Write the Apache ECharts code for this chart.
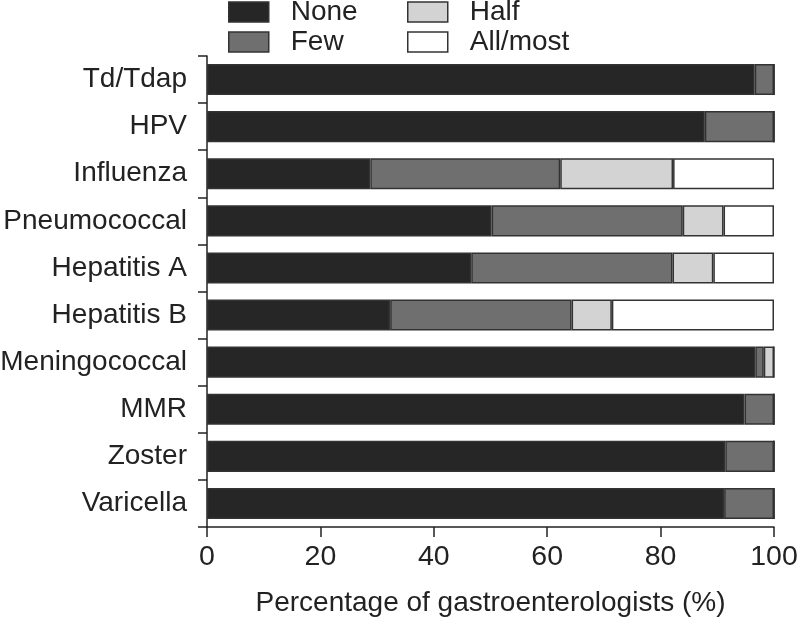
<!DOCTYPE html>
<html>
<head>
<meta charset="utf-8">
<script src="https://cdn.jsdelivr.net/npm/echarts@6/dist/echarts.min.js"></script>
<style>
html,body{margin:0;padding:0;background:#fff;}
#chart{width:798px;height:619px;}
</style>
</head>
<body>
<div id="chart"></div>
<script>
var categories = ['Td/Tdap','HPV','Influenza','Pneumococcal','Hepatitis A','Hepatitis B','Meningococcal','MMR','Zoster','Varicella'];
var noneVals = [96.6, 87.8, 28.8, 50.2, 46.6, 32.3, 96.7, 94.8, 91.4, 91.2];
var fewVals  = [3.4, 12.2, 33.5, 33.7, 35.5, 32.0, 1.5, 5.2, 8.6, 8.8];
var halfVals = [0, 0, 19.9, 7.2, 7.2, 7.1, 1.8, 0, 0, 0];
var allVals  = [0, 0, 17.8, 8.9, 10.7, 28.6, 0, 0, 0, 0];
var xTicks = [0, 20, 40, 60, 80, 100];

var FONT = 'Liberation Sans, Arial, sans-serif';
var TXT = '#222';
var FS = 28;
function mk(name, data, color){
  return {
    name: name, type: 'bar', stack: 'total', data: data,
    barCategoryGap: '34%',
    itemStyle: {color: color, borderColor: '#333', borderWidth: 1.5},
    emphasis: {disabled: true}
  };
}
var legendText = {fontFamily: FONT, fontSize: 28, color: TXT, padding: [0,0,0,17]};
function lg(data, left){
  return {data: data, orient: 'vertical', left: left, top: -7, itemWidth: 40, itemHeight: 20, itemGap: 2, icon: 'rect',
    itemStyle: {borderColor: '#333', borderWidth: 1.5}, textStyle: legendText, selectedMode: false};
}
var chart = echarts.init(document.getElementById('chart'));
chart.setOption({
  animation: false,
  backgroundColor: '#fff',
  legend: [lg(['None','Few'], 223), lg(['Half','All/most'], 402)],
  grid: {left: 207, right: 24, top: 56, bottom: 92, containLabel: false, outerBoundsMode: 'none'},
  xAxis: {
    type: 'value', min: xTicks[0], max: xTicks[xTicks.length-1], interval: 20,
    axisLine: {show: true, lineStyle: {color: TXT, width: 1.5}},
    axisTick: {show: true, length: 10, lineStyle: {color: TXT, width: 1.5}},
    splitLine: {show: false},
    axisLabel: {fontFamily: FONT, fontSize: 28.5, color: TXT, margin: 16},
    name: 'Percentage of gastroenterologists (%)', nameLocation: 'middle', nameGap: 62,
    nameTextStyle: {fontFamily: FONT, fontSize: FS, color: TXT}
  },
  yAxis: {
    type: 'category', data: categories, inverse: true,
    axisLine: {show: true, lineStyle: {color: TXT, width: 1.5}},
    axisTick: {show: true, length: 9, lineStyle: {color: TXT, width: 1.5}},
    axisLabel: {fontFamily: FONT, fontSize: FS, color: TXT, margin: 20}
  },
  series: [
    mk('None', noneVals, '#262626'),
    mk('Few', fewVals, '#6f6f6f'),
    mk('Half', halfVals, '#d3d3d3'),
    mk('All/most', allVals, '#ffffff')
  ]
});
</script>
</body>
</html>
